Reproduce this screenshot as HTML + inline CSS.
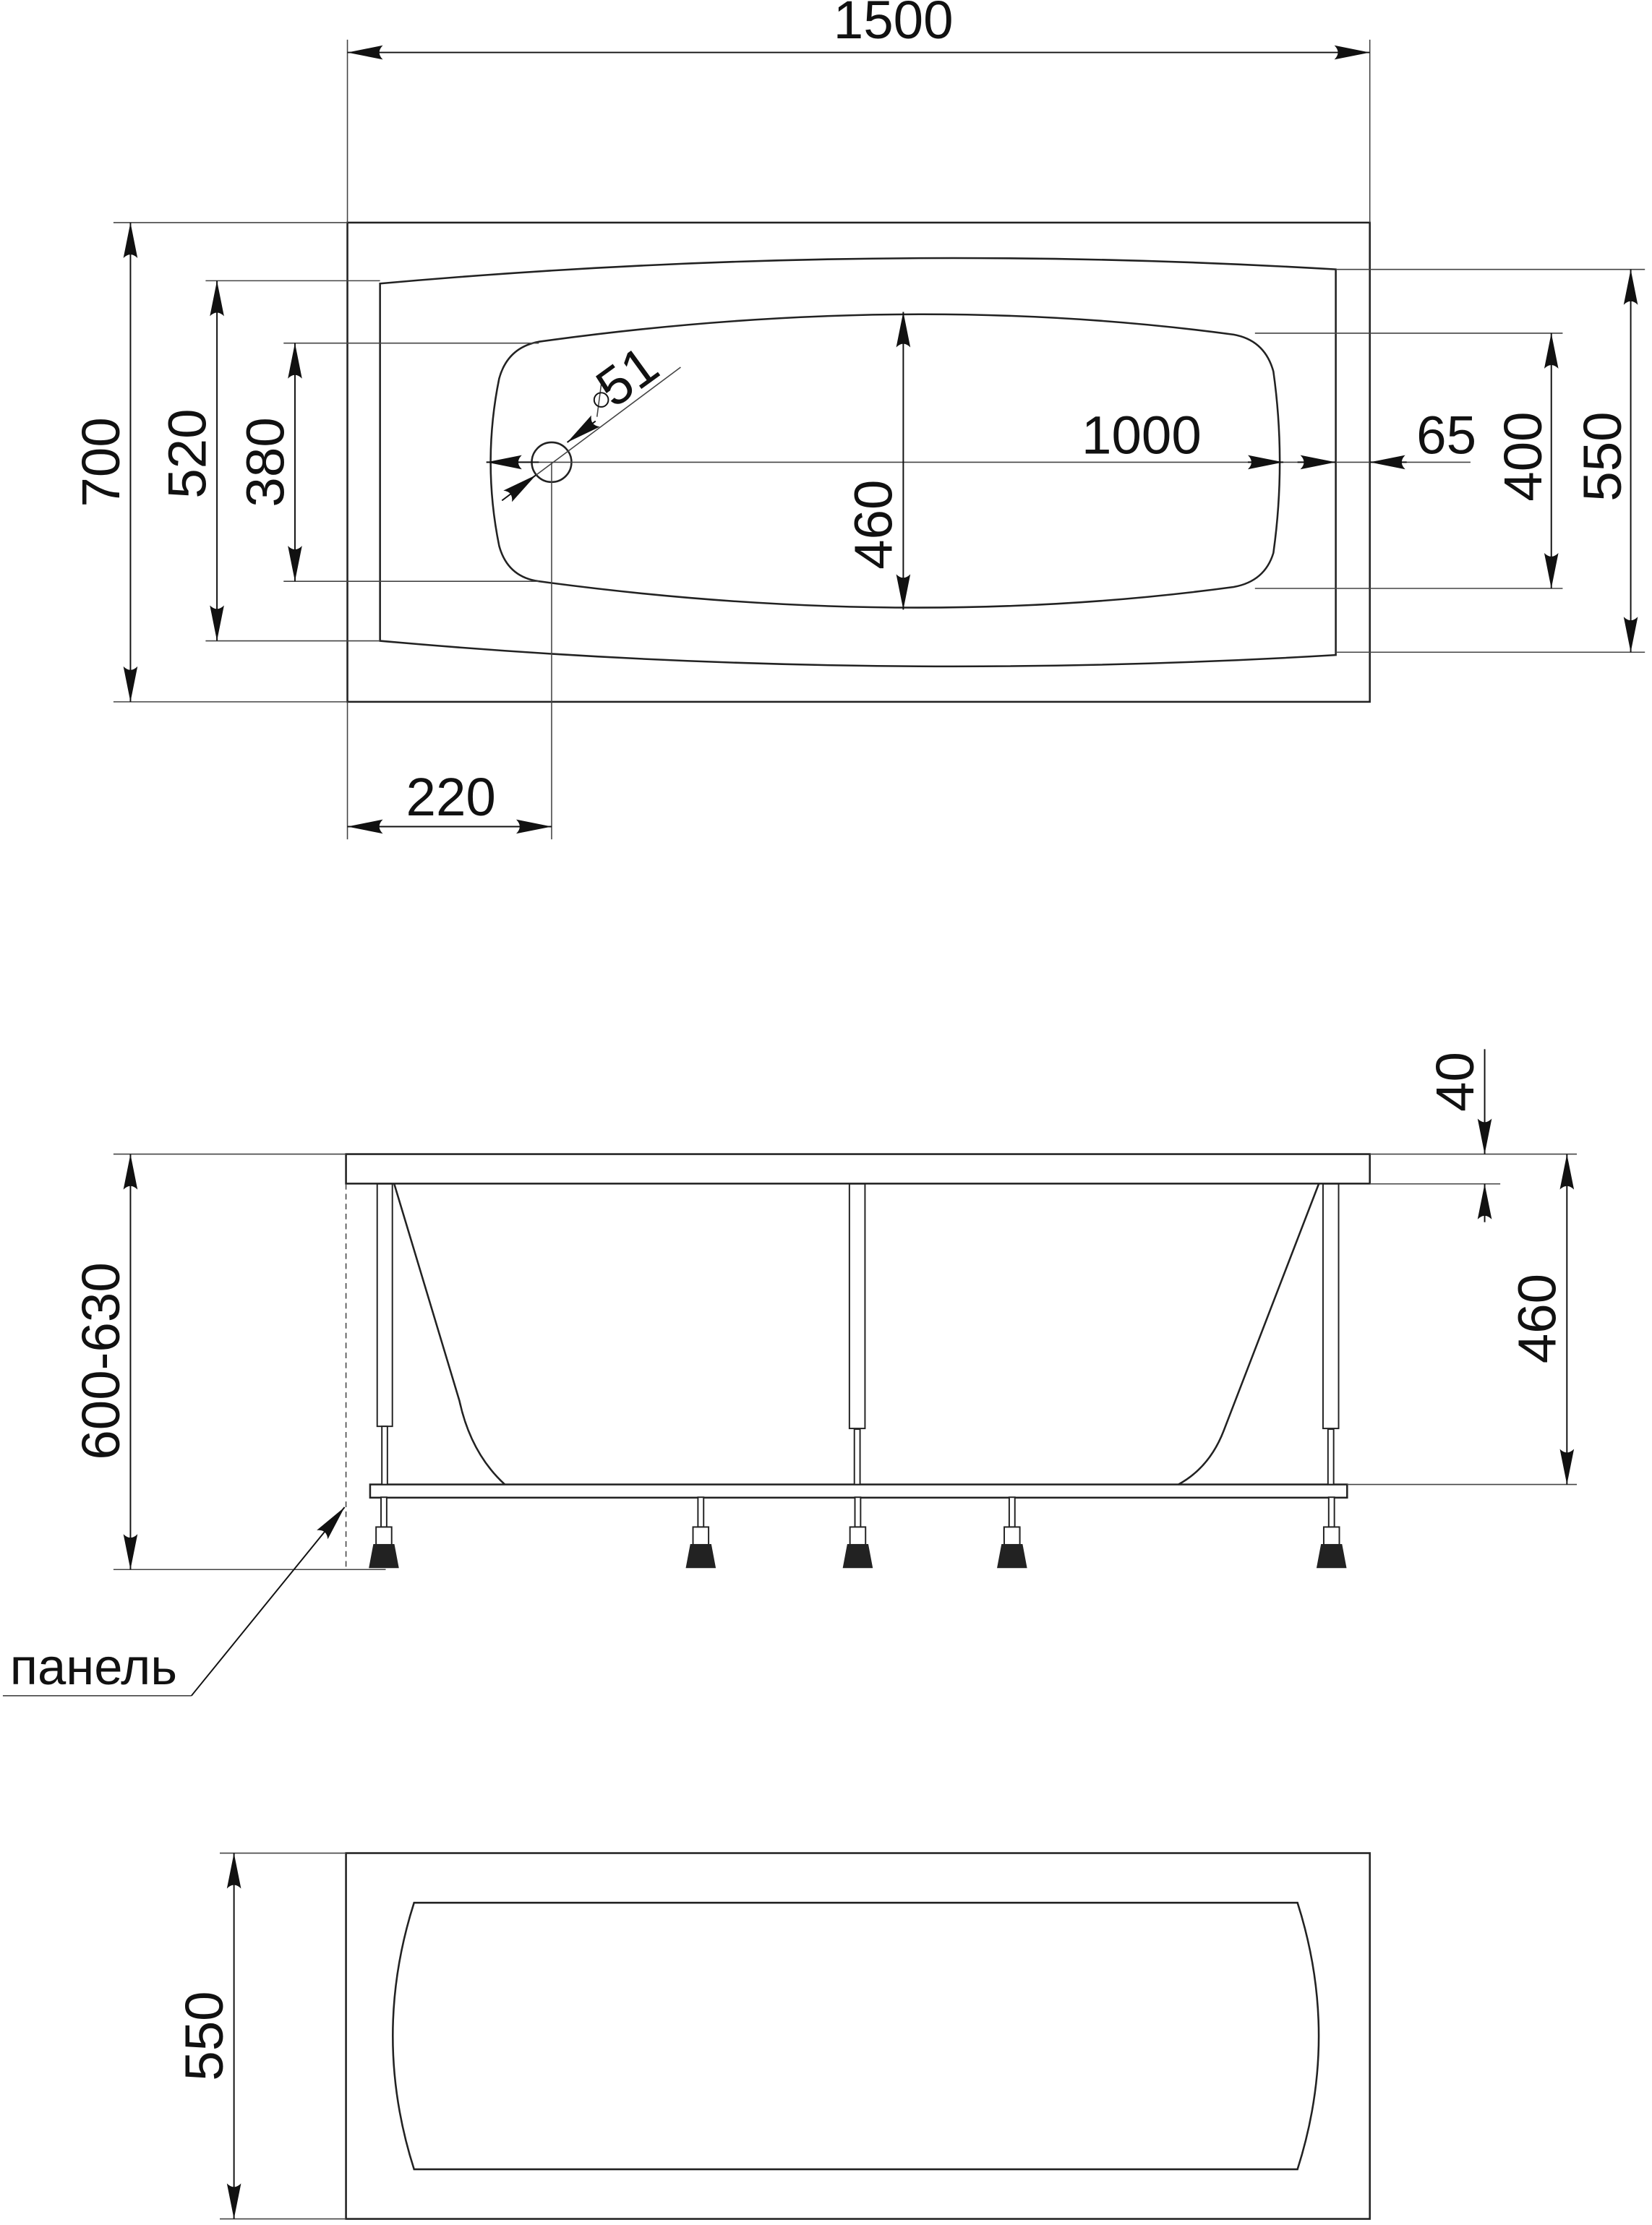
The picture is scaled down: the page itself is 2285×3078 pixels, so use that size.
<!DOCTYPE html>
<html><head><meta charset="utf-8"><style>html,body{margin:0;padding:0;background:#fff}svg{display:block}</style></head>
<body>
<svg xmlns="http://www.w3.org/2000/svg" width="2285" height="3078" viewBox="0 0 1165 1569.3" preserveAspectRatio="none">
<defs>
<marker id="a" markerUnits="userSpaceOnUse" markerWidth="30" markerHeight="12" viewBox="-26 -6 27 12" refX="0" refY="0" orient="auto-start-reverse">
<path d="M0,0 L-25,-5 Q-20,0 -25,5 Z" fill="#111"/>
</marker>
<g id="f" stroke="#222" stroke-width="1">
<rect x="-2" y="1056" width="4" height="21" fill="#fff"/>
<rect x="-5.5" y="1077" width="11" height="12.5" fill="#fff"/>
<path d="M-7,1089.5 L7,1089.5 L10,1105.5 L-10,1105.5 Z" fill="#222"/>
</g>
</defs>
<g fill="none" stroke="#222" stroke-width="1.3">
<rect x="245" y="157" width="721" height="338"/>
<path d="M268,200 Q605,170 942,190 L942,462 Q605,482 268,452 Z"/>
<path d="M380,241 Q640,205 870,236 Q892,240 898,262 Q907,326 898,390 Q892,410 870,414 Q640,445 380,410 Q358,407 352,385 Q340,326 352,267 Q358,245 380,241 Z"/>
<circle cx="389" cy="326" r="14"/>
</g>
<g fill="none" stroke="#444" stroke-width="0.8">
<line x1="245" y1="28" x2="245" y2="157"/><line x1="966" y1="28" x2="966" y2="157"/>
<line x1="80" y1="157" x2="245" y2="157"/><line x1="80" y1="495" x2="245" y2="495"/>
<line x1="145" y1="198" x2="268" y2="198"/><line x1="145" y1="452" x2="268" y2="452"/>
<line x1="200" y1="242" x2="380" y2="242"/><line x1="200" y1="410" x2="380" y2="410"/>
<line x1="885" y1="235" x2="1102" y2="235"/><line x1="885" y1="415" x2="1102" y2="415"/>
<line x1="942" y1="190" x2="1160" y2="190"/><line x1="942" y1="460" x2="1160" y2="460"/>
<line x1="245" y1="495" x2="245" y2="592"/><line x1="389" y1="326" x2="389" y2="592"/>
<line x1="343" y1="326" x2="1037" y2="326"/>
<line x1="354" y1="353" x2="480" y2="259"/>
<line x1="424" y1="271" x2="421" y2="294"/>
</g>
<g stroke="#111" stroke-width="1" fill="none" marker-start="url(#a)" marker-end="url(#a)">
<line x1="245" y1="37" x2="966" y2="37"/>
<line x1="92" y1="157" x2="92" y2="495"/>
<line x1="153" y1="198" x2="153" y2="452"/>
<line x1="208" y1="242" x2="208" y2="410"/>
<line x1="637" y1="220" x2="637" y2="430"/>
<line x1="1094" y1="235" x2="1094" y2="415"/>
<line x1="1150" y1="190" x2="1150" y2="460"/>
<line x1="245" y1="583" x2="389" y2="583"/>
</g>
<g stroke="#111" stroke-width="1" fill="none">
<line x1="380" y1="326" x2="343" y2="326" marker-end="url(#a)"/>
<line x1="880" y1="326" x2="905" y2="326" marker-end="url(#a)"/>
<line x1="915" y1="326" x2="942" y2="326" marker-end="url(#a)"/>
<line x1="992" y1="326" x2="966" y2="326" marker-end="url(#a)"/>
<line x1="420" y1="297" x2="400" y2="312" marker-end="url(#a)"/>
<line x1="354" y1="353" x2="378" y2="335" marker-end="url(#a)"/>
<circle cx="424" cy="282" r="5"/>
</g>
<g font-family="'Liberation Sans', sans-serif" font-size="38" fill="#111">
<text x="630" y="27" text-anchor="middle">1500</text>
<text transform="translate(84,326) rotate(-90)" text-anchor="middle">700</text>
<text transform="translate(145,320) rotate(-90)" text-anchor="middle">520</text>
<text transform="translate(200,326) rotate(-90)" text-anchor="middle">380</text>
<text transform="translate(629,370) rotate(-90)" text-anchor="middle">460</text>
<text x="805" y="320" text-anchor="middle">1000</text>
<text x="1020" y="320" text-anchor="middle">65</text>
<text transform="translate(1087,322) rotate(-90)" text-anchor="middle">400</text>
<text transform="translate(1143,322) rotate(-90)" text-anchor="middle">550</text>
<text x="318" y="575" text-anchor="middle">220</text>
<text transform="translate(450,276) rotate(-36)" text-anchor="middle">51</text>
</g>

<g fill="none" stroke="#222" stroke-width="1.3">
<rect x="244" y="814" width="722" height="20.8"/>
<rect x="261" y="1047" width="689" height="9.3"/>
<path d="M278,835 L324,988 Q332,1025 356,1047"/>
<path d="M930,835 L863,1009 Q853,1035 831,1047"/>
</g>
<g fill="#fff" stroke="#222" stroke-width="1">
<rect x="266" y="835" width="10.7" height="171"/>
<rect x="599" y="835" width="11" height="172.5"/>
<rect x="933" y="835" width="11" height="172.5"/>
<rect x="269.3" y="1006" width="3.9" height="41"/>
<rect x="602.5" y="1008" width="4" height="39"/>
<rect x="936.5" y="1008" width="4" height="39"/>
</g>
<use href="#f" x="270.7"/>
<use href="#f" x="494.2"/>
<use href="#f" x="604.9"/>
<use href="#f" x="713.7"/>
<use href="#f" x="939"/>
<g fill="none" stroke="#444" stroke-width="0.8">
<line x1="80" y1="814" x2="244" y2="814"/>
<line x1="80" y1="1107" x2="272" y2="1107"/>
<line x1="966" y1="835" x2="1058" y2="835"/>
<line x1="966" y1="814" x2="1112" y2="814"/>
<line x1="950" y1="1047" x2="1112" y2="1047"/>
<line x1="244" y1="835" x2="244" y2="1107" stroke-dasharray="4,3"/>
<line x1="135" y1="1196" x2="2" y2="1196"/>
</g>
<g stroke="#111" stroke-width="1" fill="none">
<line x1="92" y1="814" x2="92" y2="1107" marker-start="url(#a)" marker-end="url(#a)"/>
<line x1="1105" y1="814" x2="1105" y2="1047" marker-start="url(#a)" marker-end="url(#a)"/>
<line x1="1047" y1="740" x2="1047" y2="814" marker-end="url(#a)"/>
<line x1="1047" y1="862" x2="1047" y2="835" marker-end="url(#a)"/>
<line x1="135" y1="1196" x2="243" y2="1063" marker-end="url(#a)"/>
</g>
<g font-family="'Liberation Sans', sans-serif" font-size="38" fill="#111">
<text transform="translate(84,960) rotate(-90)" text-anchor="middle">600-630</text>
<text transform="translate(1039,763) rotate(-90)" text-anchor="middle">40</text>
<text transform="translate(1097,930) rotate(-90)" text-anchor="middle">460</text>
<text x="7" y="1188" font-size="36">панель</text>
</g>

<g fill="none" stroke="#222" stroke-width="1.3">
<rect x="244" y="1307" width="722" height="258"/>
<path d="M292,1342 L915,1342 Q945,1436 915,1530 L292,1530 Q262,1436 292,1342 Z"/>
</g>
<g fill="none" stroke="#444" stroke-width="0.8">
<line x1="155" y1="1307" x2="244" y2="1307"/>
<line x1="155" y1="1565" x2="244" y2="1565"/>
</g>
<line x1="165" y1="1307" x2="165" y2="1565" stroke="#111" stroke-width="1" marker-start="url(#a)" marker-end="url(#a)"/>
<text transform="translate(157,1436) rotate(-90)" text-anchor="middle" font-family="'Liberation Sans', sans-serif" font-size="38" fill="#111">550</text>
</svg>
</body></html>
